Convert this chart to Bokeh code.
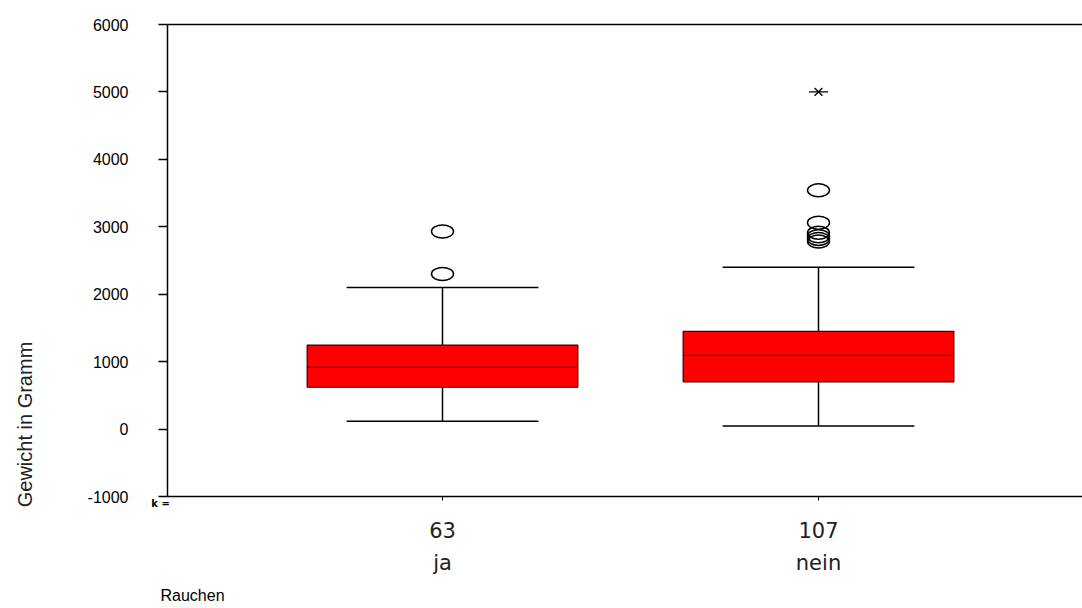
import math
from bokeh.plotting import figure
from bokeh.models import Range1d, Label, FixedTicker
from bokeh.embed import file_html
from bokeh.resources import INLINE

# ---- data ----
categories = ["ja", "nein"]
counts = [63, 107]
q1 = [620, 700]
median = [915, 1095]
q3 = [1245, 1450]
whisker_low = [115, 45]
whisker_high = [2100, 2400]
outliers_ja = [2300, 2930]
outliers_nein = [2780, 2820, 2860, 2910, 3060, 3540]
extremes_nein = [5000]
y_ticks = [-1000, 0, 1000, 2000, 3000, 4000, 5000, 6000]

W, H = 1082, 608
xs = [i + 1 for i in range(len(categories))]
box_w = 0.72
cap_w = 0.51

# layout: axis box spans pixels x 167..1082, y 24..496 ; categories 376 px apart
px_per_cat = 376.0
x_first_px = 442.0
y_min, y_max = y_ticks[0], y_ticks[-1]
px_per_val = (496 - 24) / (y_max - y_min)
x_start = 1 - x_first_px / px_per_cat
x_end = 1 + (W - x_first_px) / px_per_cat
y_top = y_max + 24 / px_per_val
y_bot = y_min - (H - 496) / px_per_val
x_axis_loc = 1 + (167 - x_first_px) / px_per_cat

p = figure(width=W, height=H, output_backend="svg", toolbar_location=None,
           x_range=Range1d(x_start, x_end), y_range=Range1d(y_bot, y_top))
p.min_border = 0
p.outline_line_color = None
p.background_fill_color = "white"
p.border_fill_color = "white"
p.grid.visible = False

# y axis
p.yaxis.fixed_location = x_axis_loc
p.yaxis.bounds = (y_min, y_max)
p.yaxis.ticker = FixedTicker(ticks=y_ticks)
p.yaxis.major_label_overrides = {t: str(t) for t in y_ticks}
p.yaxis.major_tick_out = 9
p.yaxis.major_tick_in = 0
p.yaxis.minor_tick_line_color = None
p.yaxis.major_label_standoff = 30
p.yaxis.major_label_text_font = "Liberation Sans"
p.yaxis.major_label_text_font_size = "16px"
p.yaxis.major_label_text_color = "black"
p.yaxis.axis_line_width = 1.5
p.yaxis.major_tick_line_width = 1.5

# x axis
p.xaxis.fixed_location = y_min
p.xaxis.bounds = (x_axis_loc, x_end)
p.xaxis.ticker = FixedTicker(ticks=xs)
p.xaxis.major_label_overrides = {x: f"{counts[i]}\n{categories[i]}" for i, x in enumerate(xs)}
p.xaxis.major_tick_out = 4
p.xaxis.major_tick_in = 0
p.xaxis.minor_tick_line_color = None
p.xaxis.major_label_standoff = 18
p.xaxis.major_label_text_font = "DejaVu Sans"
p.xaxis.major_label_text_font_size = "21px"
p.xaxis.major_label_text_color = "#222222"
p.xaxis.major_label_text_line_height = 1.35
p.xaxis.axis_line_width = 1.5

# top frame line
p.segment(x0=[x_axis_loc], y0=[y_max], x1=[x_end], y1=[y_max], line_color="black", line_width=1.5)

# whiskers
for i, x in enumerate(xs):
    p.segment(x0=[x, x], y0=[whisker_low[i], q3[i]], x1=[x, x], y1=[q1[i], whisker_high[i]],
              line_color="black", line_width=1.5)
    p.segment(x0=[x - cap_w / 2] * 2, y0=[whisker_low[i], whisker_high[i]],
              x1=[x + cap_w / 2] * 2, y1=[whisker_low[i], whisker_high[i]],
              line_color="black", line_width=1.5)

# boxes
p.quad(left=[x - box_w / 2 for x in xs], right=[x + box_w / 2 for x in xs],
       bottom=q1, top=q3, fill_color="#ff0000", line_color="#3a0000", line_width=1.2)
p.segment(x0=[x - box_w / 2 for x in xs], y0=median, x1=[x + box_w / 2 for x in xs], y1=median,
          line_color="#3a0000", line_width=1.2)

# outliers
p.ellipse(x=[xs[0]] * len(outliers_ja), y=outliers_ja, width=22, height=13,
          width_units="screen", height_units="screen", fill_color=None,
          line_color="black", line_width=1.5)
p.ellipse(x=[xs[1]] * len(outliers_nein), y=outliers_nein, width=22, height=13,
          width_units="screen", height_units="screen", fill_color=None,
          line_color="black", line_width=1.5)
p.scatter(x=[xs[1]] * len(extremes_nein), y=extremes_nein, marker="x", size=11,
          line_color="black", line_width=1.3)
p.scatter(x=[xs[1]] * len(extremes_nein), y=extremes_nein, marker="dash", size=19,
          line_color="black", line_width=1.3)

# free texts (screen units, origin at bottom-left of canvas)
p.add_layout(Label(x=160, y=H - 503, x_units="screen", y_units="screen", text="k =",
                   text_align="center", text_baseline="middle", text_font="DejaVu Sans",
                   text_font_size="10px", text_font_style="bold", text_color="black"))
p.add_layout(Label(x=160, y=H - 595, x_units="screen", y_units="screen", text="Rauchen",
                   text_align="left", text_baseline="middle", text_font="Liberation Sans",
                   text_font_size="16px", text_color="black"))
p.add_layout(Label(x=24, y=H - 424, x_units="screen", y_units="screen", text="Gewicht in Gramm",
                   angle=math.pi / 2, text_align="center", text_baseline="middle",
                   text_font="Liberation Sans", text_font_size="20px", text_color="#222222"))

open("out.html", "w").write(file_html(p, INLINE))
